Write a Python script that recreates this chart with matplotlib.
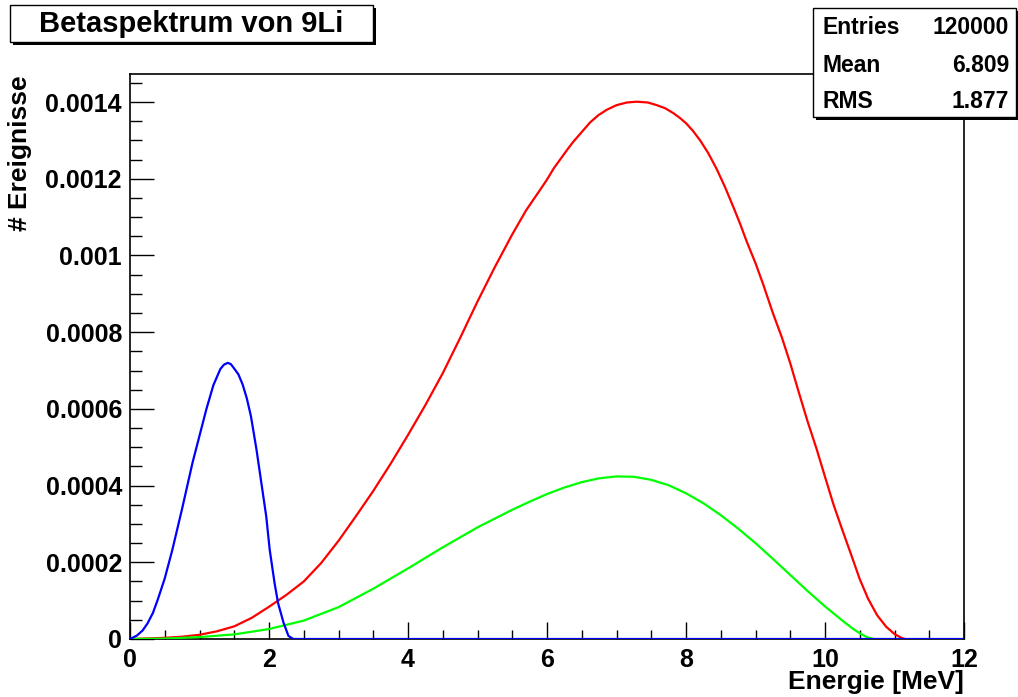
import matplotlib
matplotlib.use("Agg")
import matplotlib.pyplot as plt
from matplotlib.patches import Rectangle
from matplotlib.ticker import FixedLocator, MultipleLocator

# ---------------- data ----------------
blue_x = [0, 0.1, 0.18, 0.25, 0.33, 0.4, 0.5, 0.61, 0.75, 0.9, 1.0, 1.1, 1.2, 1.3, 1.35,
          1.405, 1.45, 1.5, 1.56, 1.62, 1.68, 1.74, 1.82, 1.89, 1.96, 2.01, 2.08,
          2.13, 2.21, 2.28, 2.35, 12.0]
blue_y = [0, 0.000009, 0.000022, 0.00004, 0.000068, 0.000103, 0.000158, 0.000233,
          0.00034, 0.00046, 0.00053, 0.0006, 0.000662, 0.000704, 0.000715, 0.00072,
          0.000717, 0.000705, 0.00069, 0.000664, 0.000628, 0.000581, 0.000494,
          0.000407, 0.00032, 0.000233, 0.000146, 0.000094, 0.000042, 0.000008, 0, 0]

red_x = [0, 0.5, 0.75, 1.0, 1.25, 1.5, 1.75, 2.0, 2.25, 2.5, 2.75, 3.0, 3.25, 3.5,
         3.75, 4.0, 4.25, 4.5, 4.75, 5.0, 5.25, 5.5, 5.7, 5.9, 6.0, 6.1, 6.2, 6.3,
         6.38, 6.5, 6.62, 6.74, 6.86, 7.0, 7.15, 7.29, 7.45, 7.58, 7.7, 7.82, 7.91,
         8.0, 8.1, 8.2, 8.32, 8.44, 8.56, 8.68, 8.78, 8.87, 9.0, 9.11, 9.25, 9.38,
         9.5, 9.62, 9.75, 9.88, 10.0, 10.12, 10.25, 10.38, 10.5, 10.62, 10.75, 10.88,
         11.0, 11.1, 11.15]
red_y = [0, 0.000003, 0.000006, 0.000011, 0.00002, 0.000033, 0.000055, 0.000084,
         0.000115, 0.00015, 0.000198, 0.000256, 0.00032, 0.000386, 0.000457,
         0.000532, 0.00061, 0.000693, 0.000785, 0.00088, 0.00097, 0.001055,
         0.001118, 0.001171, 0.001198, 0.001228, 0.001253, 0.001278, 0.001297,
         0.001322, 0.001347, 0.001366, 0.00138, 0.001392, 0.001399, 0.001401,
         0.001399, 0.001392, 0.001384, 0.001371, 0.001359, 0.001345, 0.001325,
         0.001301, 0.001267, 0.001226, 0.001179, 0.001127, 0.001082, 0.001038,
         0.00098, 0.000925, 0.00085, 0.000786, 0.000719, 0.000645, 0.000567,
         0.000495, 0.000423, 0.000352, 0.000284, 0.000218, 0.000156, 0.000105,
         0.000062, 0.000032, 0.000013, 0.000003, 0]

green_x = [0, 0.5, 1.0, 1.5, 2.0, 2.5, 3.0, 3.5, 4.0, 4.5, 5.0, 5.5, 5.75, 6.0, 6.25,
           6.5, 6.75, 7.0, 7.25, 7.5, 7.75, 8.0, 8.25, 8.5, 8.75, 9.0, 9.25, 9.5,
           9.75, 10.0, 10.25, 10.4, 10.5, 10.6, 10.7]
green_y = [0, 0.000001, 0.000005, 0.000012, 0.000026, 0.000048, 0.000083, 0.000131,
           0.000184, 0.000239, 0.000291, 0.000337, 0.000358, 0.000378, 0.000395,
           0.000409, 0.000419, 0.000424, 0.000423, 0.000415, 0.000401, 0.00038,
           0.000354, 0.000323, 0.000288, 0.00025, 0.000209, 0.000167, 0.000125,
           0.000085, 0.000048, 0.000027, 0.000015, 0.000005, 0]

x_ticks = [0, 2, 4, 6, 8, 10, 12]
x_tick_labels = ["0", "2", "4", "6", "8", "10", "12"]
y_ticks = [0, 0.0002, 0.0004, 0.0006, 0.0008, 0.001, 0.0012, 0.0014]
y_tick_labels = ["0", "0.0002", "0.0004", "0.0006", "0.0008", "0.001", "0.0012", "0.0014"]

title = "Betaspektrum von 9Li"
x_label = "Energie [MeV]"
y_label = "# Ereignisse"
stats_names = ["Entries", "Mean", "RMS"]
stats_values = ["120000", "6.809", "1.877"]

# ---------------- figure ----------------
W, H = 1018, 697
plt.rcParams['font.family'] = ['Liberation Sans', 'DejaVu Sans']
plt.rcParams['font.weight'] = 'bold'
fig = plt.figure(figsize=(W / 100, H / 100), dpi=100)


def fx(x):
    return x / W


def fy(y):
    return 1 - y / H


ax_l, ax_r, ax_t, ax_b = 130, 964, 74, 639
ax = fig.add_axes([fx(ax_l), fy(ax_b), (ax_r - ax_l) / W, (ax_b - ax_t) / H])

lw = 1.6
common = dict(lw=lw, solid_joinstyle="round", solid_capstyle="round")
ax.plot(red_x, red_y, color="#ff0000", zorder=3, **common)
ax.plot(green_x, green_y, color="#00ff00", zorder=4, **common)
ax.plot(blue_x, blue_y, color="#0000ff", zorder=5, **common)

ax.set_xlim(0, 12)
ax.set_ylim(0, 0.0002 * (ax_b - ax_t) / 76.7)

ax.xaxis.set_major_locator(FixedLocator(x_ticks))
ax.set_xticklabels(x_tick_labels)
ax.xaxis.set_minor_locator(MultipleLocator(0.5))
ax.yaxis.set_major_locator(FixedLocator(y_ticks))
ax.set_yticklabels(y_tick_labels)
ax.yaxis.set_minor_locator(MultipleLocator(0.00005))

for sp in ax.spines.values():
    sp.set_linewidth(1.2)
    sp.set_color("black")

ax.tick_params(axis="x", which="major", direction="in", length=12.5, width=1.0,
               labelsize=18, pad=6.5, top=False)
ax.tick_params(axis="x", which="minor", direction="in", length=6.2, width=1.0, top=False)
ax.tick_params(axis="y", which="major", direction="in", length=17.5, width=1.0,
               labelsize=18, pad=5.8, right=False)
ax.tick_params(axis="y", which="minor", direction="in", length=8.8, width=1.0, right=False)
for lab in ax.get_xticklabels() + ax.get_yticklabels():
    lab.set_fontweight("bold")

# axis labels
fig.text(fx(964), fy(682), x_label, ha="right", va="center", fontsize=19, fontweight="bold")
fig.text(fx(20), fy(75), y_label, ha="center", va="top", rotation=90, fontsize=19,
         fontweight="bold")

# title box
tb_l, tb_t, tb_r, tb_b = 10, 5, 373, 42
sh = 3
fig.add_artist(Rectangle((fx(tb_l + sh), fy(tb_b + sh)), (tb_r - tb_l) / W, (tb_b - tb_t) / H,
                         transform=fig.transFigure, facecolor="black", edgecolor="black",
                         lw=0, zorder=10))
fig.add_artist(Rectangle((fx(tb_l), fy(tb_b)), (tb_r - tb_l) / W, (tb_b - tb_t) / H,
                         transform=fig.transFigure, facecolor="white", edgecolor="black",
                         lw=1.0, zorder=11))
fig.text(fx((tb_l + tb_r) / 2), fy(24), title, ha="center", va="center", fontsize=21,
         fontweight="bold", zorder=12)

# stats box
sb_l, sb_t, sb_r, sb_b = 813, 8, 1016, 117
fig.add_artist(Rectangle((fx(sb_l + sh), fy(sb_b + sh)), (sb_r - sb_l) / W, (sb_b - sb_t) / H,
                         transform=fig.transFigure, facecolor="black", edgecolor="black",
                         lw=0, zorder=10))
fig.add_artist(Rectangle((fx(sb_l), fy(sb_b)), (sb_r - sb_l) / W, (sb_b - sb_t) / H,
                         transform=fig.transFigure, facecolor="white", edgecolor="black",
                         lw=1.0, zorder=11))
row_y = [27, 66, 101]
for name, val, yy in zip(stats_names, stats_values, row_y):
    fig.text(fx(823), fy(yy), name, ha="left", va="center", fontsize=16.5,
             fontweight="bold", zorder=12)
    fig.text(fx(1009), fy(yy), val, ha="right", va="center", fontsize=16.5,
             fontweight="bold", zorder=12)

fig.savefig("out.png", dpi=100)
